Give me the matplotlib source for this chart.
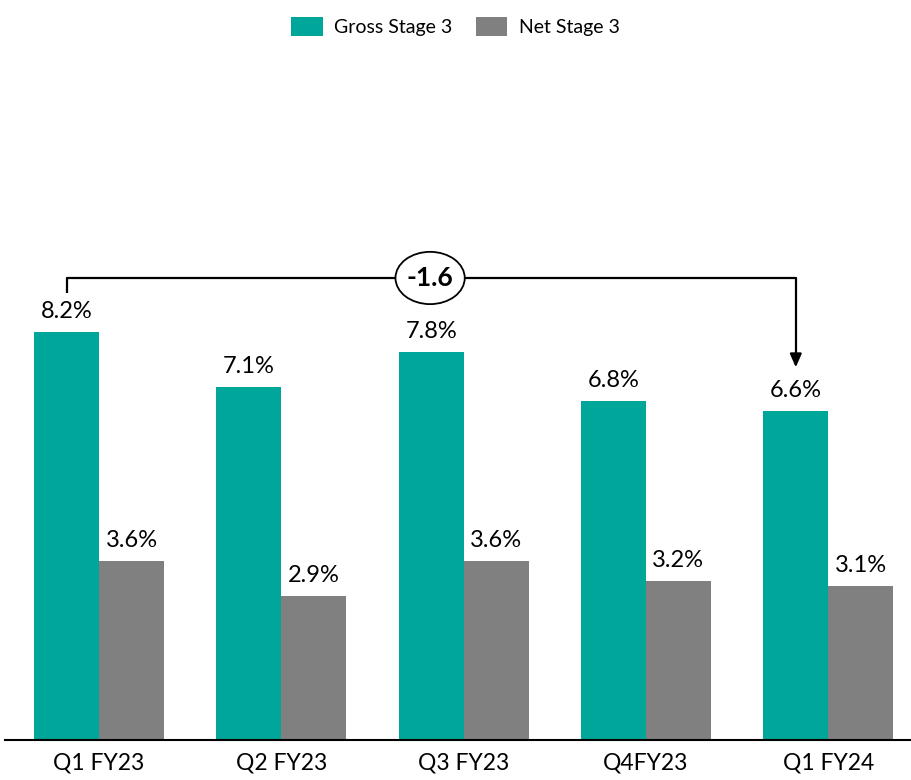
import matplotlib
matplotlib.use("Agg")
import matplotlib.pyplot as plt
from matplotlib.patches import Ellipse
import numpy as np

categories = ["Q1 FY23", "Q2 FY23", "Q3 FY23", "Q4FY23", "Q1 FY24"]
gross = [8.2, 7.1, 7.8, 6.8, 6.6]
net = [3.6, 2.9, 3.6, 3.2, 3.1]
change_label = "-1.6"

plt.rcParams['font.family'] = ['Lato', 'DejaVu Sans']

teal = "#00A699"
grey = "#808080"

fig = plt.figure(figsize=(9.11, 7.80), dpi=100)
ax = fig.add_axes([5/911, 40/780, 906/911, (740-43)/780])

x = np.arange(len(categories))
w = 0.356
b1 = ax.bar(x - w/2, gross, w, color=teal, label="Gross Stage 3")
b2 = ax.bar(x + w/2, net, w, color=grey, label="Net Stage 3")

for xi, v in zip(x - w/2, gross):
    ax.text(xi, v + 0.2, f"{v:.1f}%", ha="center", va="bottom", fontsize=17)
for xi, v in zip(x + w/2, net):
    ax.text(xi, v + 0.2, f"{v:.1f}%", ha="center", va="bottom", fontsize=17)

ax.set_xlim(-0.516, 4.454)
ax.set_ylim(0, 14)
ax.set_xticks(x)
ax.set_xticklabels(categories, fontsize=16.5)
ax.tick_params(axis="x", length=0, pad=9)
ax.set_yticks([])
for s in ["top", "right", "left"]:
    ax.spines[s].set_visible(False)
ax.spines["bottom"].set_linewidth(1.5)

# bracket annotation
y_line = 9.28
x0 = x[0] - w/2
x1 = x[-1] - w/2
ax.plot([x0, x0, x1, x1], [8.98, y_line, y_line, 7.75], color="black", lw=1.6, solid_capstyle="butt")
ax.annotate("", xy=(x1, 7.43), xytext=(x1, 7.8),
            arrowprops=dict(arrowstyle="-|>,head_width=0.35,head_length=0.8", color="black", lw=1.6))
ex = 1.816
ax.add_patch(Ellipse((ex, y_line), 0.38, 1.05, facecolor="white", edgecolor="black", lw=1.3, zorder=5))
ax.text(ex, y_line, change_label, ha="center", va="center", fontsize=19, fontweight="bold", zorder=6)

fig.legend(handles=[b1, b2], loc="upper center", bbox_to_anchor=(0.5, 1.0), ncol=2, frameon=False,
           fontsize=14, handlelength=1.6, handleheight=1.1, columnspacing=1.2, handletextpad=0.6)

fig.savefig("out.png", dpi=100)
